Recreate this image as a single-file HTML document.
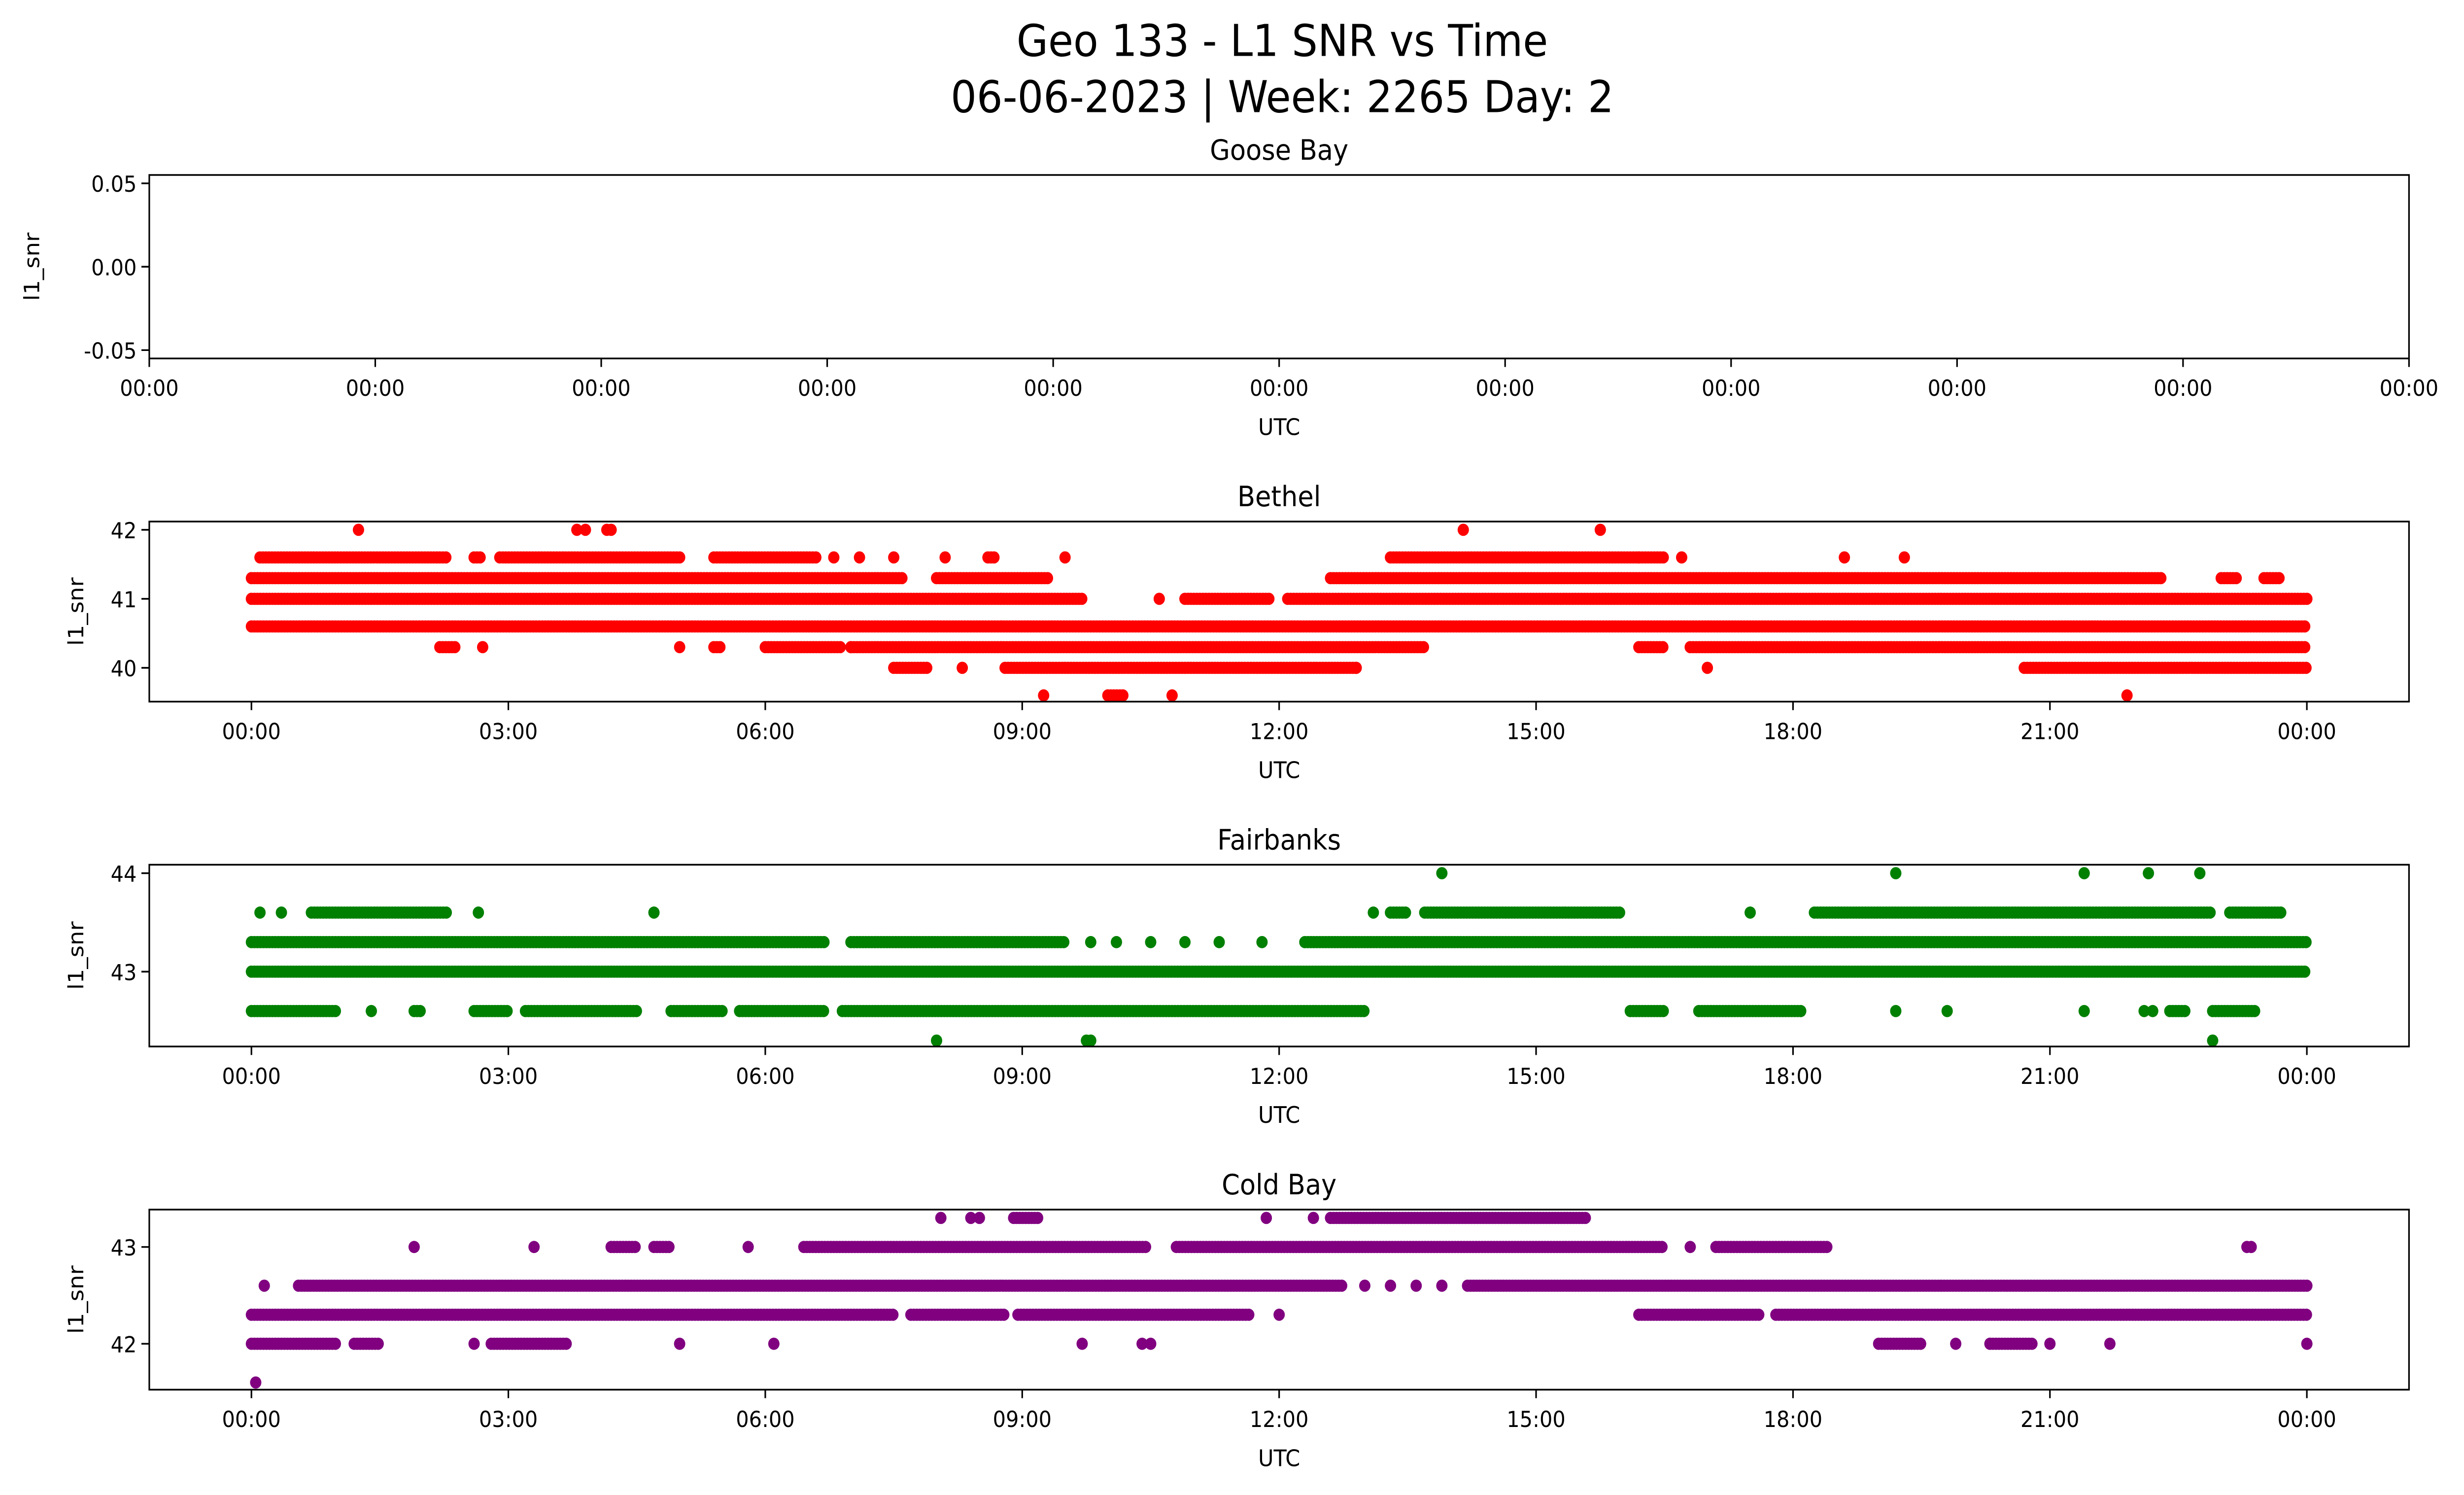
<!DOCTYPE html>
<html><head><meta charset="utf-8"><style>
html,body{margin:0;padding:0;background:#fff;overflow:hidden;width:100%;height:100%}
svg{display:block;position:absolute;left:0;top:0;width:100vw;height:100vh;font-family:"DejaVu Sans","Liberation Sans",sans-serif}
</style></head><body>
<svg id="fig" viewBox="0 0 1568 880" preserveAspectRatio="none" xmlns="http://www.w3.org/2000/svg">
<rect width="1568" height="880" fill="#fff"/>
<text x="816" y="33" font-size="26" text-anchor="middle">Geo 133 - L1 SNR vs Time</text>
<text x="816" y="66" font-size="26" text-anchor="middle">06-06-2023 | Week: 2265 Day: 2</text>
<g id="plots"></g>
</svg>
<script>
// ---------- data (hours UTC, SNR levels) ----------
const tickLabels = ["00:00","03:00","06:00","09:00","12:00","15:00","18:00","21:00","00:00"];
const tickHours = [0,3,6,9,12,15,18,21,24];
const gooseTickLabels = ["00:00","00:00","00:00","00:00","00:00","00:00","00:00","00:00","00:00","00:00","00:00"];
const gooseYTicks = [0.05,0.00,-0.05];

const bethelLevels = [42,41.6,41.3,41,40.6,40.3,40,39.6];
const bethelRuns = [
 [],
 [[0.1,2.3],[2.6,2.7],[2.9,5.0],[5.4,6.6],[8.6,8.7],[13.3,16.5]],
 [[0,7.6],[8.0,9.3],[12.6,22.3],[23.0,23.2],[23.5,23.7]],
 [[0,9.7],[10.9,11.9],[12.1,24]],
 [[0,24]],
 [[2.2,2.4],[5.4,5.5],[6.0,6.9],[7.0,13.7],[16.2,16.5],[16.8,24]],
 [[7.5,7.9],[8.8,12.9],[20.7,24]],
 [[10.0,10.2]]
];
const bethelSingles = [
 [1.25,3.8,3.9,4.15,4.2,14.15,15.75],
 [6.8,7.1,7.5,8.1,9.5,16.2,16.7,18.6,19.3],
 [], [10.6], [],
 [2.7,5.0,7.0],
 [8.3,12.9,17.0],
 [9.25,10.75,21.9]
];

const fairLevels = [44,43.6,43.3,43,42.6,42.3];
const fairRuns = [
 [],
 [[0.7,2.3],[13.3,13.5],[13.7,16.0],[18.25,22.9],[23.1,23.7]],
 [[0,6.7],[7.0,9.5],[12.3,24]],
 [[0,24]],
 [[0,1.0],[1.9,2.0],[2.6,3.0],[3.2,4.5],[4.9,5.5],[5.7,6.7],[6.9,13.0],[16.1,16.5],[16.9,18.1],[22.4,22.6],[22.9,23.4]],
 []
];
const fairSingles = [
 [13.9,19.2,21.4,22.15,22.75],
 [0.1,0.35,2.65,4.7,13.1,17.5],
 [9.8,10.1,10.5,10.9,11.3,11.8],
 [],
 [1.4,19.2,19.8,21.4,22.1,22.2],
 [8.0,9.75,9.8,22.9]
];

const coldLevels = [43.3,43,42.6,42.3,42,41.6];
const coldRuns = [
 [[8.9,9.2],[12.6,15.6]],
 [[4.2,4.5],[4.7,4.9],[6.45,10.45],[10.8,16.5],[17.1,18.4]],
 [[0.55,12.75],[14.2,24]],
 [[0,7.5],[7.7,8.8],[8.95,11.65],[16.2,17.6],[17.8,24]],
 [[0,1.0],[1.2,1.5],[2.8,3.7],[19.0,19.5],[20.3,20.8]],
 []
];
const coldSingles = [
 [8.05,8.4,8.5,11.85,12.4],
 [1.9,3.3,5.8,16.8,23.3,23.35],
 [0.15,13.0,13.3,13.6,13.9],
 [12.0],
 [2.6,5.0,6.1,9.7,10.4,10.5,19.9,20.3,21.0,21.7,24],
 [0.05]
];

// ---------- rendering ----------
const NS="http://www.w3.org/2000/svg";
const root=document.getElementById('plots');
function mk(tag,attrs,parent){const e=document.createElementNS(NS,tag);for(const k in attrs)e.setAttribute(k,attrs[k]);(parent||root).appendChild(e);return e;}

function panel(cfg){
 const g=mk('g',{});
 
 
 const x0=95,x1=1533;
 const xs=h=>160+(h/24)*1308;
 const ys=v=>cfg.yTop+(cfg.vTop-v)/(cfg.vTop-cfg.vBot)*(cfg.yBot-cfg.yTop);
 const t=mk('text',{x:814,y:cfg.yTop-9,'font-size':16.5,'text-anchor':'middle'},g);
 t.textContent=cfg.title;
 
 
 if(cfg.levels){
  const pg=mk('g',{fill:cfg.color},g);
  
  
  cfg.levels.forEach((lv,i)=>{
   const y=ys(lv);
   cfg.runs[i].forEach(r=>{for(let h=r[0];h<=r[1]+1e-9;h+=0.035){mk('circle',{cx:xs(h),cy:y,r:3.6},pg);}});
   cfg.singles[i].forEach(h=>{mk('circle',{cx:xs(h),cy:y,r:3.6},pg);});
  });
 }
 const fr=mk('rect',{x:x0,y:cfg.yTop,width:x1-x0,height:cfg.yBot-cfg.yTop,fill:'none',stroke:'#000','stroke-width':1},g);
 
 
 const xp=cfg.goose?gooseTickLabels.map((_,i)=>x0+i*(x1-x0)/10):tickHours.map(xs);
 const xl=cfg.goose?gooseTickLabels:tickLabels;
 xp.forEach((x,i)=>{
  mk('line',{x1:x,x2:x,y1:cfg.yBot,y2:cfg.yBot+5,stroke:'#000'},g);
  const l=mk('text',{x:x,y:cfg.yBot+22,'font-size':13,'text-anchor':'middle'},g);
  l.textContent=xl[i];
  
  
 });
 const ux=mk('text',{x:814,y:cfg.yBot+45,'font-size':13.5,'text-anchor':'middle'},g);
 ux.textContent='UTC';
 
 
 cfg.yticks.forEach((v,i)=>{
  const y=ys(v);
  mk('line',{x1:x0-5,x2:x0,y1:y,y2:y,stroke:'#000'},g);
  const l=mk('text',{x:x0-8,y:y+5,'font-size':13,'text-anchor':'end'},g);
  l.textContent=cfg.goose?v.toFixed(2):String(v);
  
  
 });
 const yl=mk('text',{x:0,y:0,'font-size':13.5,'text-anchor':'middle',transform:`translate(${cfg.goose?25:53},${(cfg.yTop+cfg.yBot)/2}) rotate(-90)`},g);
 yl.textContent='l1_snr';
 
 
}

panel({name:'goose-bay',title:'Goose Bay',yTop:103,yBot:211,vTop:0.055,vBot:-0.055,goose:true,yticks:gooseYTicks});
panel({name:'bethel',title:'Bethel',yTop:307,yBot:413,vTop:42.12,vBot:39.51,color:'#ff0000',levels:bethelLevels,runs:bethelRuns,singles:bethelSingles,yticks:[40,41,42]});
panel({name:'fairbanks',title:'Fairbanks',yTop:509,yBot:616,vTop:44.086,vBot:42.24,color:'#008000',levels:fairLevels,runs:fairRuns,singles:fairSingles,yticks:[43,44]});
panel({name:'cold-bay',title:'Cold Bay',yTop:712,yBot:818,vTop:43.386,vBot:41.526,color:'#800080',levels:coldLevels,runs:coldRuns,singles:coldSingles,yticks:[42,43]});
</script>
</body></html>
